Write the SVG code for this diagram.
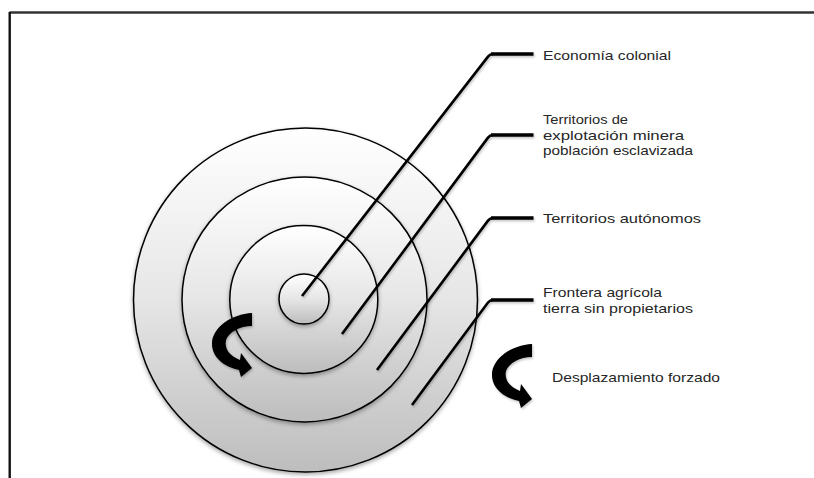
<svg xmlns="http://www.w3.org/2000/svg" width="814" height="478" viewBox="0 0 814 478">
<defs>
<linearGradient id="g" x1="0" y1="0" x2="0" y2="1">
<stop offset="0" stop-color="#ffffff"/>
<stop offset="0.5" stop-color="#e6e6e6"/>
<stop offset="1" stop-color="#bdbdbd"/>
</linearGradient>
<filter id="sh" x="-20%" y="-20%" width="140%" height="140%">
<feDropShadow dx="0" dy="2" stdDeviation="2" flood-color="#000" flood-opacity="0.35"/>
</filter>
<filter id="lsh" x="-20%" y="-20%" width="140%" height="140%">
<feDropShadow dx="1" dy="1.5" stdDeviation="1" flood-color="#000" flood-opacity="0.25"/>
</filter>
<path id="carrow" d="M252 313 L252 326 C240 326 229 332 226 340 C224 349 230 356 240 360 L241 353 L252 368 L241 377 L239 370 C224 367 212 357 212 344 C212 327 232 314 252 313 Z"/>
</defs>
<style>
.ring{fill:url(#g);stroke:#000;stroke-width:1.5;filter:url(#sh)}
.diag{fill:none;stroke:#000;stroke-width:2.6;stroke-linecap:butt}
.tick{stroke:#000;stroke-width:3.6}
.lbl{font-family:"Liberation Sans",Arial,sans-serif;font-size:13.5px;fill:#262626}
.arr{fill:#000}
</style>
<rect width="814" height="478" fill="#ffffff"/>
<g id="frame">
<line x1="9.5" y1="12.5" x2="814" y2="12.5" stroke="#333" stroke-width="2.4"/>
<line x1="9.7" y1="12" x2="9.7" y2="478" stroke="#111" stroke-width="2.4"/>
</g>
<g id="rings">
<circle id="ring4" class="ring" cx="305.5" cy="300" r="172"/>
<circle id="ring3" class="ring" cx="304.5" cy="299.5" r="122.5"/>
<circle id="ring2" class="ring" cx="303.8" cy="299.5" r="74"/>
<circle id="ring1" class="ring" cx="304" cy="299" r="25"/>
</g>
<g id="connectors" filter="url(#lsh)">
<path class="diag" d="M302 296 L488 56.6 Q490 54 493 54"/>
<line class="tick" x1="491" y1="54" x2="533.5" y2="54"/>
<path class="diag" d="M342 334 L488 137.6 Q490 135 493 135"/>
<line class="tick" x1="491" y1="135" x2="533.5" y2="135"/>
<path class="diag" d="M377 370 L488 220.6 Q490 218 493 218"/>
<line class="tick" x1="491" y1="218" x2="533.5" y2="218"/>
<path class="diag" d="M412 405 L488 302.6 Q490 300 493 300"/>
<line class="tick" x1="491" y1="300" x2="533.5" y2="300"/>
</g>
<g id="arrows" filter="url(#lsh)">
<use id="arrow-inner" class="arr" href="#carrow"/>
<use id="arrow-outer" class="arr" href="#carrow" transform="translate(280 31)"/>
</g>
<g id="label-economia"><text class="lbl" x="543" y="59.5" textLength="128" lengthAdjust="spacingAndGlyphs">Economía colonial</text></g>
<g id="label-mineros">
<text class="lbl" x="543" y="124" textLength="85" lengthAdjust="spacingAndGlyphs">Territorios de</text>
<text class="lbl" x="543" y="139.6" textLength="141" lengthAdjust="spacingAndGlyphs">explotación minera</text>
<text class="lbl" x="543" y="155.2" textLength="150" lengthAdjust="spacingAndGlyphs">población esclavizada</text>
</g>
<g id="label-autonomos"><text class="lbl" x="543" y="223" textLength="158" lengthAdjust="spacingAndGlyphs">Territorios autónomos</text></g>
<g id="label-frontera">
<text class="lbl" x="543" y="297.3" textLength="119" lengthAdjust="spacingAndGlyphs">Frontera agrícola</text>
<text class="lbl" x="543" y="312.9" textLength="150" lengthAdjust="spacingAndGlyphs">tierra sin propietarios</text>
</g>
<g id="label-desplazamiento"><text class="lbl" x="552" y="381.7" textLength="168" lengthAdjust="spacingAndGlyphs">Desplazamiento forzado</text></g>
</svg>
